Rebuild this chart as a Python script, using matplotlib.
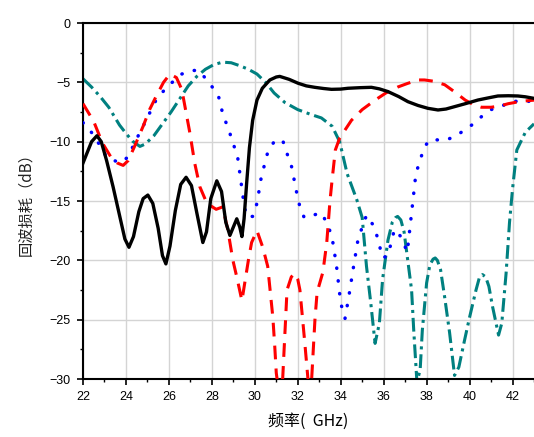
import matplotlib
matplotlib.use("Agg")
import matplotlib.pyplot as plt
from matplotlib.ticker import MultipleLocator

# ---------------- data ----------------
black_f = [22.0, 22.2, 22.4, 22.65, 22.85, 23.1, 23.4, 23.7, 23.95, 24.14, 24.35, 24.6, 24.8,
           25.02, 25.25, 25.5, 25.7, 25.86, 26.05, 26.3, 26.55, 26.8, 27.05, 27.3, 27.58, 27.75,
           27.95, 28.23, 28.45, 28.65, 28.84, 29.0, 29.16, 29.3, 29.4, 29.5, 29.62, 29.75, 29.9,
           30.1, 30.35, 30.7, 31.0, 31.16, 31.6, 32.02, 32.4, 32.79, 33.2, 33.57, 34.0, 34.34,
           34.9, 35.43, 35.8, 36.2, 36.7, 37.13, 37.6, 38.06, 38.53, 38.9, 39.3, 39.8, 40.39,
           40.9, 41.32, 41.8, 42.25, 42.6, 43.0]
black_y = [-11.8, -10.9, -10.0, -9.5, -10.0, -11.6, -13.8, -16.2, -18.2, -18.9, -18.0, -15.9, -14.8,
           -14.5, -15.2, -17.3, -19.6, -20.3, -18.8, -15.8, -13.6, -13.0, -13.7, -16.0, -18.5, -17.6,
           -14.8, -13.3, -14.2, -16.8, -17.9, -17.2, -16.5, -17.2, -18.0, -16.5, -13.5, -10.5, -8.2,
           -6.5, -5.5, -4.8, -4.55, -4.5, -4.75, -5.08, -5.3, -5.42, -5.52, -5.59, -5.57, -5.5,
           -5.45, -5.42, -5.55, -5.78, -6.2, -6.63, -6.95, -7.19, -7.33, -7.25, -7.05, -6.8, -6.49,
           -6.3, -6.15, -6.13, -6.15, -6.22, -6.35]

red_f = [22.0, 22.5, 22.9, 23.3, 23.6, 23.87, 24.1, 24.4, 24.8, 25.1, 25.4, 25.75, 26.05, 26.35,
         26.6, 26.98, 27.2, 27.44, 27.77, 28.2, 28.5, 28.74, 28.98, 29.16, 29.4, 29.7, 29.85, 30.1,
         30.37, 30.6, 30.84, 30.93, 31.0, 31.15, 31.3, 31.5, 31.7, 31.86, 32.0, 32.1, 32.33, 32.47,
         32.55, 32.65, 32.8, 32.9, 33.17, 33.35, 33.5, 33.6, 33.75, 33.95, 34.5, 35.0, 35.6, 36.1,
         36.65, 37.1, 37.6, 37.9, 38.3, 38.84, 39.3, 39.8, 40.2, 40.55, 41.0, 41.4, 41.8, 42.4, 43.0]
red_y = [-6.8, -8.3, -10.1, -11.3, -11.8, -12.0, -11.6, -10.4, -8.7, -7.3, -6.2, -5.0, -4.3, -4.6,
         -5.6, -9.3, -11.8, -13.8, -15.2, -15.7, -15.5, -17.4, -20.0, -21.4, -23.4, -20.0, -18.5, -17.5,
         -18.9, -20.5, -24.8, -27.3, -29.5, -31.5, -29.9, -22.5, -21.4, -21.1, -21.6, -22.5, -27.0, -29.9,
         -31.5, -29.9, -25.0, -22.7, -21.0, -18.5, -15.0, -13.2, -10.7, -9.7, -8.2, -7.3, -6.5, -5.9,
         -5.4, -5.1, -4.8, -4.8, -4.9, -5.2, -5.8, -6.5, -6.9, -7.1, -7.1, -7.0, -6.8, -6.6, -6.5]

blue_f = [22.0, 22.2, 22.65, 23.1, 23.25, 23.7, 24.1, 24.4, 24.8, 25.4, 25.9, 26.6, 27.1, 27.4,
          27.9, 28.3, 28.5, 28.84, 29.2, 29.47, 29.6, 29.9, 30.1, 30.3, 30.6, 30.93, 31.3, 31.5,
          31.7, 31.95, 32.1, 32.3, 32.7, 33.1, 33.4, 33.6, 33.8, 34.0, 34.2, 34.4, 34.6, 34.8,
          35.0, 35.2, 35.5, 35.7, 35.95, 36.2, 36.5, 36.8, 37.1, 37.3, 37.5, 37.9, 38.2, 38.8,
          39.3, 39.7, 40.1, 40.55, 41.0, 41.5, 42.0, 42.9]
blue_y = [-8.4, -8.7, -9.9, -11.3, -11.4, -11.8, -11.3, -10.1, -8.7, -6.5, -5.4, -4.3, -4.0, -4.0,
          -5.1, -6.1, -7.6, -9.3, -11.3, -14.9, -16.3, -16.3, -15.2, -13.0, -10.9, -9.9, -9.9, -11.0,
          -12.0, -14.3, -15.5, -16.4, -16.2, -16.0, -17.0, -18.1, -20.4, -23.6, -24.9, -22.8, -20.5, -18.3,
          -17.2, -16.2, -17.0, -18.0, -19.8, -19.6, -17.4, -18.0, -19.3, -16.0, -12.7, -10.4, -9.8, -9.9,
          -9.6, -9.1, -8.6, -7.9, -7.3, -7.0, -6.6, -6.6]

teal_f = [22.0, 22.4, 22.8, 23.2, 23.7, 24.0, 24.3, 24.65, 24.9, 25.3, 25.7, 26.1, 26.5, 26.9,
          27.3, 27.7, 28.1, 28.5, 28.9, 29.3, 29.7, 30.1, 30.5, 30.9, 31.4, 32.0, 32.6, 33.1,
          33.6, 33.95, 34.3, 34.75, 35.0, 35.2, 35.4, 35.6, 35.8, 35.95, 36.2, 36.4, 36.55, 36.65,
          36.8, 36.95, 37.1, 37.3, 37.4, 37.55, 37.7, 37.8, 38.0, 38.15, 38.3, 38.4, 38.5, 38.65,
          38.84, 39.07, 39.3, 39.5, 39.77, 40.0, 40.3, 40.45, 40.6, 40.75, 40.9, 41.07, 41.35,
          41.5, 41.7, 41.86, 42.0, 42.2, 42.6, 43.0]
teal_y = [-4.7, -5.4, -6.2, -7.1, -8.6, -9.3, -9.95, -10.4, -10.2, -9.5, -8.5, -7.5, -6.4, -5.3,
          -4.5, -3.9, -3.5, -3.3, -3.35, -3.6, -3.9, -4.3, -5.0, -5.9, -6.7, -7.3, -7.7, -8.0,
          -8.7, -10.0, -12.7, -14.9, -16.4, -20.5, -23.6, -27.0, -25.3, -21.6, -18.3, -16.8, -16.4, -16.3,
          -16.6, -17.6, -19.7, -22.5, -25.9, -30.3, -29.2, -25.9, -21.9, -20.4, -19.9, -19.8, -20.0, -20.8,
          -23.1, -26.1, -29.7, -29.0, -26.7, -24.8, -22.5, -21.5, -21.2, -21.4, -22.2, -23.9, -26.3,
          -25.3, -21.1, -16.8, -14.0, -10.7, -9.2, -8.5]

x_ticks = [22, 24, 26, 28, 30, 32, 34, 36, 38, 40, 42]
y_ticks = [0, -5, -10, -15, -20, -25, -30]

# ---------------- figure ----------------
W, H = 534, 437
fig = plt.figure(figsize=(W / 100, H / 100), dpi=100)
ax = fig.add_axes([83 / W, 1 - 379 / H, (534 - 83) / W, (379 - 23) / H])

ax.plot(black_f, black_y, color="black", lw=2.4, solid_joinstyle="round", zorder=5)
ax.plot(red_f, red_y, color="#ff0000", lw=2.2, linestyle=(0, (4.5, 3.0)), zorder=4)
ax.plot(blue_f, blue_y, color="#0000ff", lw=2.5, linestyle=(0, (0.1, 3.6)),
        dash_capstyle="round", zorder=3)
ax.plot(teal_f, teal_y, color="#008080", lw=2.2, linestyle=(0, (4.5, 1.6, 1.0, 1.6)), zorder=2)

ax.set_xlim(22, 43)
ax.set_ylim(-30, 0)
ax.set_xticks(x_ticks)
ax.set_yticks(y_ticks)
ax.xaxis.set_minor_locator(MultipleLocator(1))
ax.yaxis.set_minor_locator(MultipleLocator(2.5))
ax.grid(True, which="major", color="#d4d4d4", lw=1.0)
ax.set_axisbelow(True)

for s in ["left", "bottom", "top"]:
    ax.spines[s].set_linewidth(1.5)
ax.spines["right"].set_visible(False)

ax.tick_params(axis="both", which="major", direction="out", length=4, width=1.2,
               labelsize=9, pad=5)
ax.tick_params(axis="both", which="minor", direction="out", length=2.5, width=1.0)
ax.tick_params(top=False, right=False, which="both")
for lab in ax.get_xticklabels() + ax.get_yticklabels():
    lab.set_fontfamily(["Liberation Sans", "DejaVu Sans"])

ax.set_xlabel("频率(  GHz)", fontsize=11.5, family=["Noto Sans CJK SC", "DejaVu Sans"], labelpad=7)
ax.set_ylabel("回波损耗（dB）", fontsize=11, family=["Noto Sans CJK SC", "DejaVu Sans"],
              labelpad=11, color="#222222")

fig.savefig("out.png", dpi=100)
